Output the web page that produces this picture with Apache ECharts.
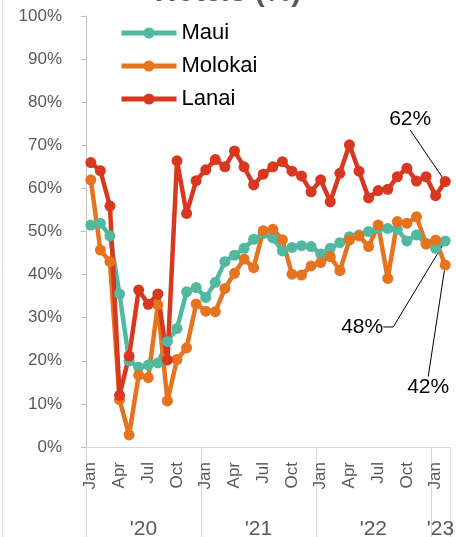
<!DOCTYPE html>
<html>
<head>
<meta charset="utf-8">
<script src="https://cdn.jsdelivr.net/npm/echarts@6/dist/echarts.min.js"></script>
<style>
  html, body { margin: 0; padding: 0; background: #fff; }
  #chart { width: 456px; height: 537px; }
</style>
</head>
<body>
<div id="chart"></div>
<script>
// months Jan '20 .. Feb '23
const monthNames = ['Jan', 'Feb', 'Mar', 'Apr', 'May', 'Jun', 'Jul', 'Aug', 'Sep', 'Oct', 'Nov', 'Dec'];
const yearNames = ["'20", "'21", "'22", "'23"];
const monthsPerYear = [12, 12, 12, 2];

const maui = [51.5, 51.9, 49, 35.5, 20, 18.5, 19, 19.5, 24.5, 27.5, 36, 37, 34.7, 38.2, 43, 44.5, 46.1, 48.2, 49.5,
  48.5, 45.5, 46.3, 46.7, 46.5, 44.8, 46.1, 47.4, 48.8, 49.2, 50, 50.7, 50.7, 50.5, 47.8, 49.2, 47.3, 46.1, 47.8];
const molokai = [62, 45.7, 43, 11, 2.8, 16.7, 16.1, 33, 10.7, 20.3, 23, 33.2, 31.5, 31.4, 36.8, 40.3, 43.6, 41.6, 50.2,
  50.5, 48.1, 40.1, 39.9, 42, 42.8, 44.2, 40.9, 48, 49, 46.5, 51.5, 39.1, 52.3, 51.9, 53.4, 47.1, 48, 42.2];
const lanai = [66, 64.1, 55.9, 12, 21.1, 36.4, 33.1, 35.5, 20.2, 66.4, 54.2, 61.8, 64.3, 66.7, 65, 68.7, 65, 60.8, 63.3,
  65, 66.2, 64, 62.9, 59.2, 62, 56.9, 63.5, 70.1, 64, 57.8, 59.5, 59.8, 62.7, 64.7, 61.7, 62.7, 58.3, 61.6];

const categories = [];
monthsPerYear.forEach((n, y) => {
  for (let m = 0; m < n; m++) categories.push(monthNames[m]);
});

// year labels sit in the middle of each year's span (half-month positions)
const yearAxisData = new Array(categories.length * 2 + 1).fill('');
let startMonth = 0;
yearNames.forEach((y, i) => {
  yearAxisData[startMonth * 2 + monthsPerYear[i]] = y;
  startMonth += monthsPerYear[i];
});

const gray = '#595959';
const font = "'Liberation Sans', Arial, sans-serif";

// only the last point of each series carries a callout
function lastLabel(values) {
  return values.map((v, i) => i === values.length - 1
    ? { value: v, label: { show: true } }
    : v);
}

function lineSeries(name, color, values, layout, length2, padding) {
  return {
    name: name,
    type: 'line',
    data: lastLabel(values),
    symbol: 'circle',
    symbolSize: 11,
    showAllSymbol: true,
    lineStyle: { width: 4.5, color: color },
    itemStyle: { color: color },
    label: {
      show: false,
      formatter: p => Math.round(p.value) + '%',
      color: '#000',
      fontSize: 21,
      fontFamily: font,
      padding: padding
    },
    labelLine: { show: true, length2: length2, lineStyle: { color: '#000', width: 1 } },
    labelLayout: layout,
    emphasis: { disabled: true },
    animation: false
  };
}

const chart = echarts.init(document.getElementById('chart'));
chart.setOption({
  animation: false,
  textStyle: { fontFamily: font },
  grid: { left: 86, right: 6, top: 16, bottom: 90, outerBoundsMode: 'none' },
  legend: {
    orient: 'vertical',
    left: 119,
    top: 22,
    padding: 0,
    itemWidth: 55,
    itemHeight: 14,
    itemGap: 11,
    lineStyle: { width: 5 },
    textStyle: { fontSize: 22, color: '#000' },
    data: ['Maui', 'Molokai', 'Lanai']
  },
  graphic: [
    {
      type: 'text',
      left: 'center',
      top: -22,
      style: { text: 'Hotels (%)', font: "bold 30px 'Liberation Sans', Arial, sans-serif", fill: gray },
      silent: true
    },
    {
      type: 'line',
      shape: { x1: 2.5, y1: 0, x2: 2.5, y2: 537 },
      style: { stroke: '#d9d9d9', lineWidth: 1 },
      silent: true
    }
  ],
  xAxis: [
    {
      type: 'category',
      data: categories,
      boundaryGap: true,
      axisLine: { lineStyle: { color: '#d9d9d9', width: 1 } },
      axisTick: {
        show: true,
        length: 90,
        interval: i => i % 12 === 0,
        lineStyle: { color: '#d9d9d9' }
      },
      axisLabel: { interval: 2, rotate: 90, margin: 15, fontSize: 17, color: gray }
    },
    {
      type: 'category',
      data: yearAxisData,
      boundaryGap: false,
      position: 'bottom',
      axisLine: { show: false },
      axisTick: { show: false },
      axisLabel: { interval: 0, margin: 72, fontSize: 21, color: gray }
    }
  ],
  yAxis: {
    type: 'value',
    min: 0,
    max: 100,
    interval: 10,
    axisLine: { show: true, lineStyle: { color: '#bfbfbf', width: 1 } },
    axisTick: { show: true, length: 5, lineStyle: { color: '#bfbfbf' } },
    splitLine: { show: false },
    axisLabel: { formatter: '{value}%', fontSize: 17, color: gray, margin: 24 }
  },
  series: [
    lineSeries('Maui', '#50b9a0', maui, { dx: -78, dy: 107 }, 10, [0, 10, 0, 0]),
    lineSeries('Molokai', '#e6731e', molokai, { dx: -17, dy: 143 }, 0, 0),
    lineSeries('Lanai', '#d7381f', lanai, { dx: -35, dy: -41 }, 0, 0)
  ]
});
</script>
</body>
</html>
